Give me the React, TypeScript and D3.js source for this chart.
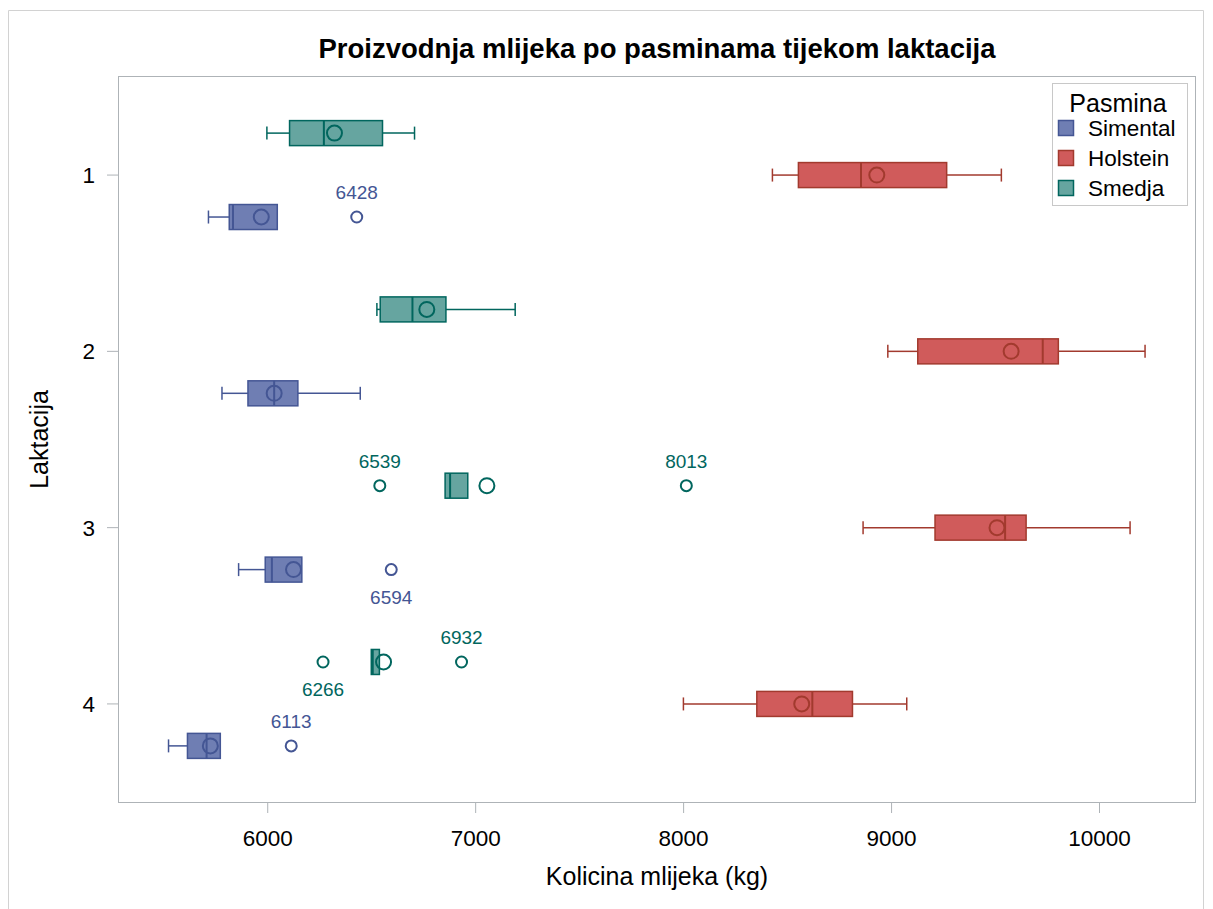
import React from "react";
import * as d3 from "d3";

const lactations = [1, 2, 3, 4];
const breeds = ["Simental", "Holstein", "Smedja"];
const xTicks = [6000, 7000, 8000, 9000, 10000];

// per breed, per lactation: [whiskerLow, q1, median, q3, whiskerHigh]
const simentalBox = [
  [5715, 5815, 5833, 6046, 6046],
  [5780, 5905, 6031, 6145, 6445],
  [5860, 5988, 6020, 6164, 6164],
  [5523, 5614, 5706, 5772, 5772],
];
const holsteinBox = [
  [8427, 8552, 8853, 9265, 9528],
  [8982, 9126, 9727, 9802, 10219],
  [8863, 9209, 9546, 9647, 10147],
  [7999, 8352, 8619, 8812, 9073],
];
const smedjaBox = [
  [5996, 6105, 6270, 6552, 6706],
  [6525, 6541, 6696, 6857, 7190],
  [6853, 6853, 6877, 6962, 6962],
  [6498, 6498, 6505, 6537, 6537],
];
const simentalMean = [5969, 6031, 6124, 5724];
const holsteinMean = [8929, 9575, 9507, 8568];
const smedjaMean = [6321, 6765, 7054, 6557];

// outliers
const outlierBreed = ["Simental", "Simental", "Simental", "Smedja", "Smedja", "Smedja", "Smedja"];
const outlierLact = [1, 3, 4, 3, 3, 4, 4];
const outlierValue = [6428, 6594, 6113, 6539, 8013, 6266, 6932];
const outlierSide = ["above", "below", "above", "above", "above", "below", "above"];

const fills = { Simental: "#6F7EB3", Holstein: "#D05B5B", Smedja: "#66A5A0" };
const lines = { Simental: "#445694", Holstein: "#A23A2E", Smedja: "#01665E" };
const offsets = { Simental: 0.238, Holstein: 0, Smedja: -0.238 };

const W = 1205;
const H = 901;
const plot = { left: 110, right: 1188, top: 68, bottom: 795 };
const FONT = "'Liberation Sans', Arial, sans-serif";

export default function App() {
  const x = d3.scaleLinear().domain([5280, 10464]).range([plot.left, plot.right]);
  const y = d3.scalePoint<number>().domain(lactations).range([plot.top, plot.bottom]).padding(0.562);
  const step = y.step();
  const boxH = 25;
  const capH = 13;

  const boxData: Record<string, number[][]> = { Simental: simentalBox, Holstein: holsteinBox, Smedja: smedjaBox };
  const meanData: Record<string, number[]> = { Simental: simentalMean, Holstein: holsteinMean, Smedja: smedjaMean };

  const yc = (breed: string, lact: number) => (y(lact) as number) + offsets[breed] * step;

  return (
    <svg width={W} height={H} style={{ display: "block", fontFamily: FONT }}>
      <rect x={0} y={0} width={W} height={H} fill="#fff" />
      <path d={`M0.5,${H + 10} V2.5 H1195.5 V${H + 10}`} fill="none" stroke="#D2D2D2" strokeWidth={1} />
      <text x={(plot.left + plot.right) / 2} y={50} textAnchor="middle" fontSize={27.5} fontWeight="bold" fill="#000">
        Proizvodnja mlijeka po pasminama tijekom laktacija
      </text>
      <rect x={plot.left + 0.5} y={plot.top + 0.5} width={plot.right - plot.left - 1} height={plot.bottom - plot.top - 1} fill="none" stroke="#AEB3B7" strokeWidth={1} />

      {xTicks.map((t) => (
        <g key={t}>
          <line x1={x(t)} x2={x(t)} y1={plot.bottom} y2={plot.bottom + 10} stroke="#AEB3B7" />
          <text x={x(t)} y={plot.bottom + 43} textAnchor="middle" fontSize={22.5} fill="#000">{t}</text>
        </g>
      ))}
      <text x={(plot.left + plot.right) / 2} y={plot.bottom + 82} textAnchor="middle" fontSize={25} fill="#000">
        Kolicina mlijeka (kg)
      </text>

      {lactations.map((l) => (
        <g key={l}>
          <line x1={plot.left - 11} x2={plot.left} y1={y(l)} y2={y(l)} stroke="#AEB3B7" />
          <text x={plot.left - 23} y={(y(l) as number) + 8} textAnchor="end" fontSize={22.5} fill="#000">{l}</text>
        </g>
      ))}
      <text transform={`translate(40,${(plot.top + plot.bottom) / 2}) rotate(-90)`} textAnchor="middle" fontSize={25} fill="#000">
        Laktacija
      </text>

      {breeds.map((b) =>
        lactations.map((l, i) => {
          const [wl, q1, med, q3, wh] = boxData[b][i];
          const cy = yc(b, l);
          const c = lines[b];
          return (
            <g key={b + l}>
              {wl < q1 && (
                <>
                  <line x1={x(wl)} x2={x(q1)} y1={cy} y2={cy} stroke={c} strokeWidth={1.5} />
                  <line x1={x(wl)} x2={x(wl)} y1={cy - capH / 2} y2={cy + capH / 2} stroke={c} strokeWidth={1.5} />
                </>
              )}
              {wh > q3 && (
                <>
                  <line x1={x(q3)} x2={x(wh)} y1={cy} y2={cy} stroke={c} strokeWidth={1.5} />
                  <line x1={x(wh)} x2={x(wh)} y1={cy - capH / 2} y2={cy + capH / 2} stroke={c} strokeWidth={1.5} />
                </>
              )}
              <rect x={x(q1)} y={cy - boxH / 2} width={x(q3) - x(q1)} height={boxH} fill={fills[b]} stroke={c} strokeWidth={1.5} />
              <line x1={x(med)} x2={x(med)} y1={cy - boxH / 2} y2={cy + boxH / 2} stroke={c} strokeWidth={2} />
              <circle cx={x(meanData[b][i])} cy={cy} r={7.5} fill="none" stroke={c} strokeWidth={2} />
            </g>
          );
        })
      )}

      {outlierValue.map((v, i) => {
        const b = outlierBreed[i];
        const cy = yc(b, outlierLact[i]);
        const ly = outlierSide[i] === "above" ? cy - 18 : cy + 34;
        return (
          <g key={"o" + i}>
            <circle cx={x(v)} cy={cy} r={5.5} fill="none" stroke={lines[b]} strokeWidth={2} />
            <text x={x(v)} y={ly} textAnchor="middle" fontSize={19} fill={lines[b]}>{v}</text>
          </g>
        );
      })}

      <rect x={1044.5} y={75.5} width={135} height={122} fill="#fff" stroke="#C8C8C8" />
      <text x={1110} y={104} textAnchor="middle" fontSize={25} fill="#000">Pasmina</text>
      {breeds.map((b, i) => {
        const cy = 120 + i * 30;
        return (
          <g key={"lg" + b}>
            <rect x={1050.5} y={cy - 7.5} width={15} height={15} fill={fills[b]} stroke={lines[b]} strokeWidth={1.5} />
            <text x={1080} y={cy + 8} fontSize={22.5} fill="#000">{b}</text>
          </g>
        );
      })}
    </svg>
  );
}
